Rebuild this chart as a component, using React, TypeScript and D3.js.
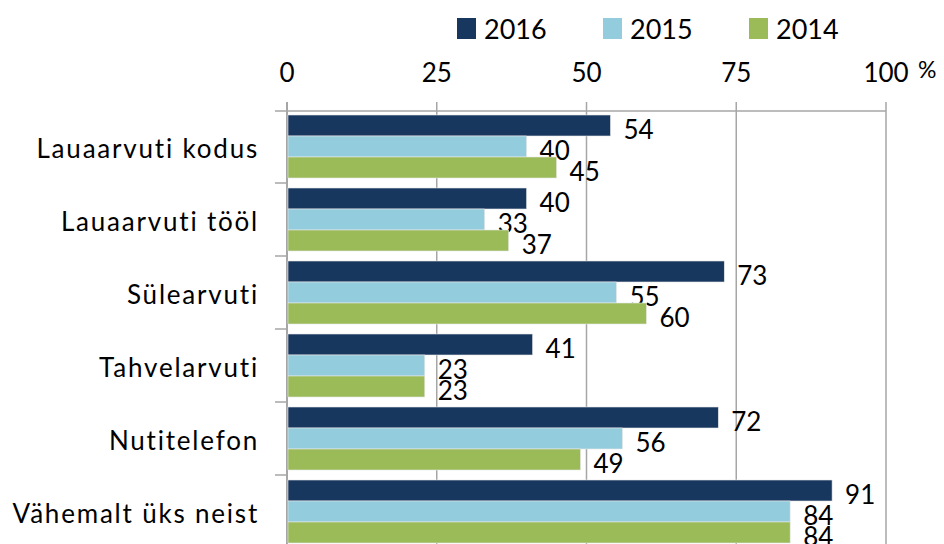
import React from "react";
import * as d3 from "d3";

const categories = [
  "Lauaarvuti kodus",
  "Lauaarvuti tööl",
  "Sülearvuti",
  "Tahvelarvuti",
  "Nutitelefon",
  "Vähemalt üks neist",
];
const seriesNames = ["2016", "2015", "2014"];
const values2016 = [54, 40, 73, 41, 72, 91];
const values2015 = [40, 33, 55, 23, 56, 84];
const values2014 = [45, 37, 60, 23, 49, 84];
const xTicks = [0, 25, 50, 75, 100];
const colors = ["#17375E", "#93CDDD", "#9BBB59"];

const FONT = "Lato, 'Open Sans', sans-serif";

export default function App() {
  const W = 944;
  const H = 544;
  const x = d3.scaleLinear().domain([0, 100]).range([287, 886]);
  const y = d3.scaleBand<string>().domain(categories).range([110, 110 + 73 * 6]).padding(0);
  const inner = d3.scaleBand<string>().domain(seriesNames).range([5, 68]).padding(0);
  const series = [values2016, values2015, values2014];
  const gridColor = "#A6A6A6";

  const legendX = [457, 603, 749];

  return (
    <svg
      width={W}
      height={H}
      style={{ position: "absolute", left: 0, top: 0, background: "#fff" }}
      fontFamily={FONT}
    >
      {/* legend */}
      {seriesNames.map((s, i) => (
        <g key={s}>
          <rect x={legendX[i]} y={18} width={19} height={21} fill={colors[i]} />
          <text x={legendX[i] + 27} y={39} fontSize={27} fill="#000">
            {s}
          </text>
        </g>
      ))}
      {/* x tick labels */}
      {xTicks.map((t) => (
        <text key={t} x={x(t)} y={82} fontSize={26} textAnchor="middle" fill="#000">
          {t}
        </text>
      ))}
      <text x={918} y={78} fontSize={23} fill="#000">%</text>
      {/* gridlines */}
      {xTicks.map((t) => (
        <line
          key={"g" + t}
          x1={x(t)}
          x2={x(t)}
          y1={102}
          y2={H}
          stroke={gridColor}
          strokeWidth={t === 0 ? 2 : 1.5}
        />
      ))}
      <line x1={275} x2={x(100)} y1={111} y2={111} stroke={gridColor} strokeWidth={1.5} />
      {categories.map((c) => (
        <line
          key={"t" + c}
          x1={275}
          x2={287}
          y1={(y(c) as number) + 73}
          y2={(y(c) as number) + 73}
          stroke={gridColor}
          strokeWidth={1.5}
        />
      ))}
      {/* bars */}
      {categories.map((c, ci) => (
        <g key={c} transform={`translate(0, ${y(c)})`}>
          {series.map((vals, si) => {
            const by = inner(seriesNames[si]) as number;
            const bh = inner.bandwidth();
            return (
              <g key={si}>
                <rect
                  x={x(0) + 1}
                  y={by}
                  width={x(vals[ci]) - x(0) - 1}
                  height={bh}
                  fill={colors[si]}
                  stroke="#E6E6E6"
                  strokeWidth={0.6}
                />
                <text
                  x={x(vals[ci]) + 13}
                  y={by + bh / 2 + 3.5}
                  dominantBaseline="central"
                  fontSize={26}
                  fill="#000"
                >
                  {vals[ci]}
                </text>
              </g>
            );
          })}
          <text
            x={259}
            y={36.5 + 1}
            dominantBaseline="central"
            textAnchor="end"
            fontSize={26}
            letterSpacing={1.8}
            fill="#000"
          >
            {c}
          </text>
        </g>
      ))}
    </svg>
  );
}
